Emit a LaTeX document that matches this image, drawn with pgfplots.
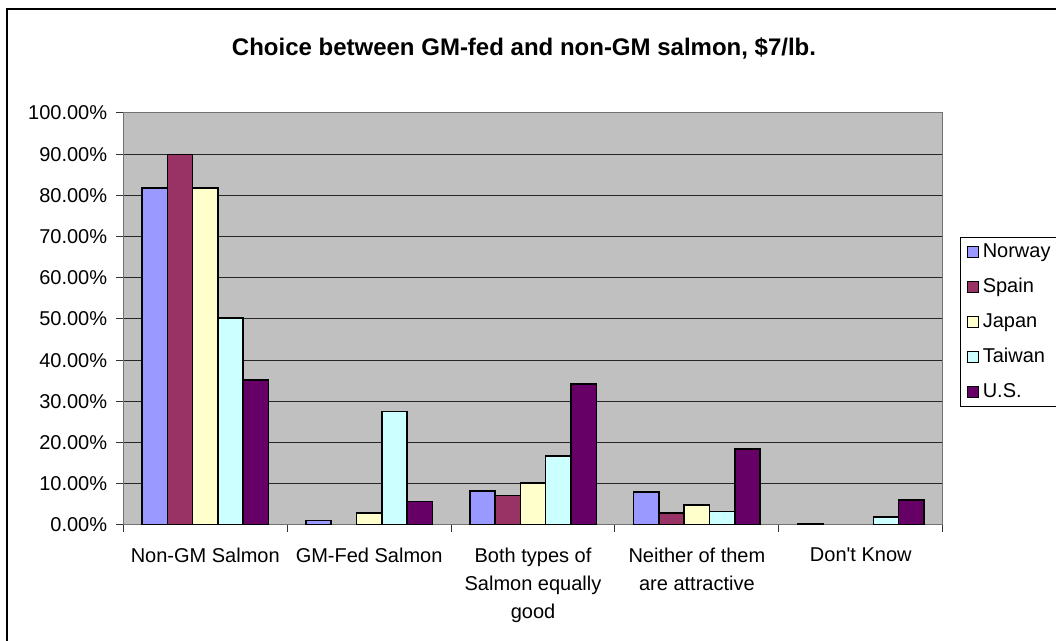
\documentclass[border=0pt]{standalone}
\usepackage{fontspec}
\setmainfont{Liberation Sans}
\usepackage{pgfplots}
\pgfplotsset{compat=1.18}
\definecolor{cNor}{HTML}{9999FF}
\definecolor{cSpa}{HTML}{993366}
\definecolor{cJap}{HTML}{FFFFCC}
\definecolor{cTai}{HTML}{CCFFFF}
\definecolor{cUS}{HTML}{660066}
\definecolor{plotgray}{HTML}{C0C0C0}
\newcommand{\lblfont}{\fontsize{20bp}{28bp}\selectfont}
\begin{document}
\begin{tikzpicture}[x=1bp,y=1bp]
\useasboundingbox (0,0) rectangle (1056,641);
\fill[white] (0,0) rectangle (1056,641);
\draw[line width=1.6bp] (7,-20) -- (7,632) -- (1080,632);
\node[font=\bfseries\fontsize{24bp}{28bp}\selectfont] at (524,593) {Choice between GM-fed and non-GM salmon, \$7/lb.};
\begin{axis}[
    at={(123.3bp,116bp)}, anchor=south west,
    scale only axis, width=819.4bp, height=412bp,
    xmin=-0.5, xmax=4.5, ymin=0, ymax=100,
    ybar=0pt, bar width=25.3bp,
    axis background/.style={fill=plotgray},
    axis line style={draw=black!55, line width=1bp},
    ymajorgrids, grid style={black!85, line width=1bp},
    ytick={0,10,...,100},
    xtick={0,1,2,3,4},
    xticklabels={Non-GM Salmon, GM-Fed Salmon, {Both types of\\Salmon equally\\good}, {Neither of them\\are attractive}, Don\textquotesingle t Know},
    minor xtick={-0.5,0.5,...,4.5},
    tick align=outside, tick pos=left,
    major tick length=7bp, minor tick length=7bp,
    major x tick style={draw=none},
    tick style={black!80, line width=1bp},
    /pgf/number format/assume math mode=true,
    yticklabel={\pgfmathprintnumber[fixed,fixed zerofill,precision=2]{\tick}\%},
    ticklabel style={font=\lblfont, inner sep=0pt},
    yticklabel style={xshift=-9bp},
    xticklabel style={align=center, yshift=-16bp},
    legend style={at={(1.0211,0.699)}, anchor=north west, draw=black, line width=1bp,
        font=\lblfont, row sep=13bp, inner xsep=6bp, inner ysep=3.5bp,
        nodes={inner sep=2bp, text height=14bp, text depth=4bp}},
    legend cell align=left,
    legend image code/.code={\draw[#1, line width=1bp] (1bp,-5.5bp) rectangle (12bp,5.5bp); \path (14bp,0bp);},
    every axis plot/.append style={draw=black, line width=1.5bp},
]
\addplot[fill=cNor] coordinates {(0,81.8) (1,1.1) (2,8.3) (3,8.0) (4,0.3)};
\addplot[fill=cSpa] coordinates {(0,89.9) (2,7.2) (3,2.9)};
\addplot[fill=cJap] coordinates {(0,81.8) (1,2.9) (2,10.2) (3,4.9)};
\addplot[fill=cTai] coordinates {(0,50.3) (1,27.6) (2,16.8) (3,3.3) (4,1.9)};
\addplot[fill=cUS] coordinates {(0,35.2) (1,5.7) (2,34.2) (3,18.4) (4,6.1)};
\legend{Norway, Spain, Japan, Taiwan, U.S.}
\end{axis}
\end{tikzpicture}
\end{document}
